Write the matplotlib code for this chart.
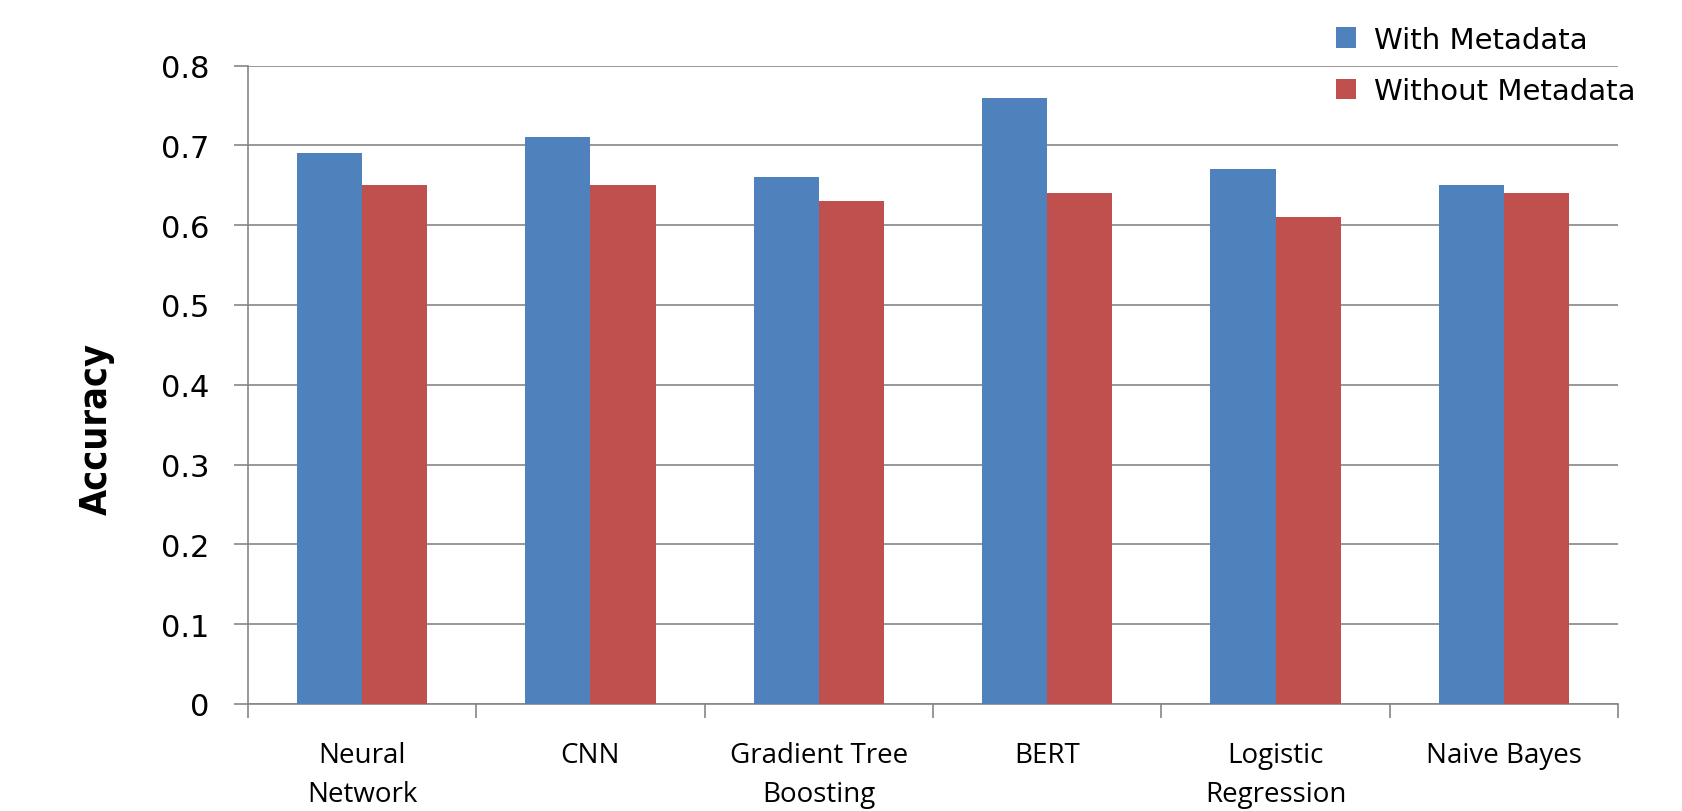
import matplotlib.pyplot as plt
import numpy as np

categories = ["Neural\nNetwork", "CNN", "Gradient Tree\nBoosting", "BERT",
              "Logistic\nRegression", "Naive Bayes"]
with_meta = [0.69, 0.71, 0.66, 0.76, 0.67, 0.65]
without_meta = [0.65, 0.65, 0.63, 0.64, 0.61, 0.64]
yticks = [0, 0.1, 0.2, 0.3, 0.4, 0.5, 0.6, 0.7, 0.8]
ytick_labels = ["0", "0.1", "0.2", "0.3", "0.4", "0.5", "0.6", "0.7", "0.8"]

blue = "#4F81BD"
red = "#C0504D"
grey = "#868686"

fig = plt.figure(figsize=(16.82, 8.12), dpi=100)
ax = fig.add_axes([0.1474, 0.1318, 0.8146, 0.7862])

x = np.arange(len(categories))
w = 0.2857
b1 = ax.bar(x - w / 2, with_meta, w, color=blue, label="With Metadata", zorder=3)
b2 = ax.bar(x + w / 2, without_meta, w, color=red, label="Without Metadata", zorder=3)

ax.set_xlim(-0.5, len(categories) - 0.5)
ax.set_ylim(0, 0.8)

# y axis
ax.set_yticks(yticks)
ax.set_yticklabels(ytick_labels, fontsize=22, family="DejaVu Sans")
ax.yaxis.grid(True, color=grey, linewidth=1.2, zorder=0)
ax.tick_params(axis="y", length=10, width=1.2, color=grey, pad=18)

# x axis: boundary ticks, labels at centres
ax.set_xticks(np.arange(len(categories) + 1) - 0.5)
ax.set_xticklabels([])
ax.tick_params(axis="x", which="major", length=10, width=1.2, color=grey)
ax.set_xticks(x, minor=True)
ax.set_xticklabels(categories, minor=True, fontsize=20, family="Open Sans",
                   linespacing=1.5, va="top")
ax.tick_params(axis="x", which="minor", length=0, pad=27)

for s in ["top", "right"]:
    ax.spines[s].set_visible(False)
for s in ["left", "bottom"]:
    ax.spines[s].set_color(grey)
    ax.spines[s].set_linewidth(1.2)

ax.set_ylabel("Accuracy", fontsize=27,
              family=["Liberation Sans Narrow", "DejaVu Sans"],
              fontstretch="condensed", fontweight="bold")
ax.yaxis.set_label_coords(-0.097, 0.432)

fig.legend(handles=[b1, b2], loc="upper left", bbox_to_anchor=(0.7855, 0.985),
           frameon=False, fontsize=21, handlelength=0.7, handleheight=0.7,
           handletextpad=0.6, labelspacing=0.8, borderpad=0)

fig.savefig("out.png", dpi=100)
